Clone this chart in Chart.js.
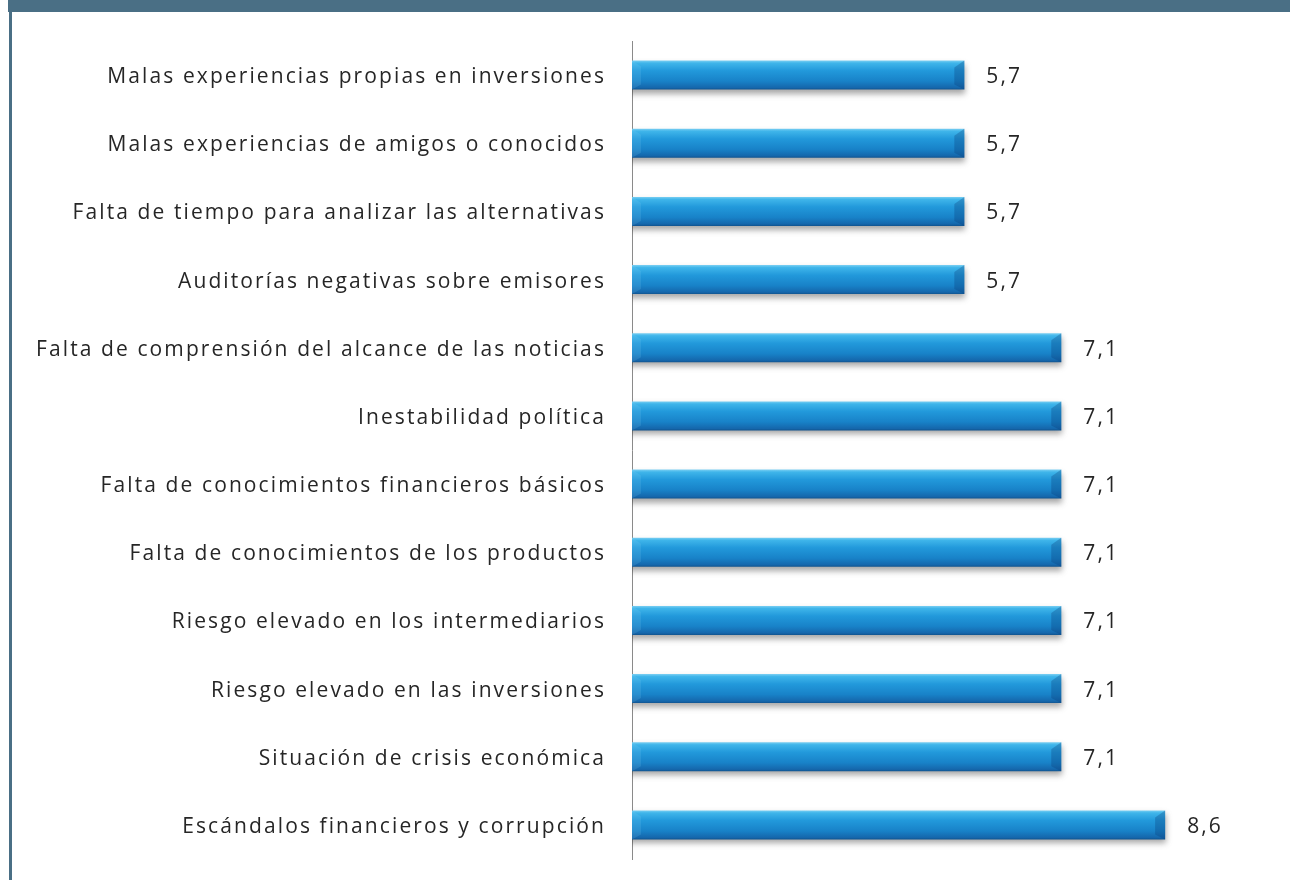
<!DOCTYPE html>
<html>
<head>
<meta charset="utf-8">
<script src="https://cdn.jsdelivr.net/npm/chart.js@4.4.1/dist/chart.umd.min.js"></script>
<style>
  html, body { margin: 0; padding: 0; background: #ffffff; }
  #wrap { position: relative; width: 1290px; height: 880px; overflow: hidden; }
  #topband { position: absolute; left: 8px; top: 0; width: 1282px; height: 12px; background: #4a6f85; }
  #leftrule { position: absolute; left: 9px; top: 12px; width: 3px; height: 868px; background: #4a6f85; }
  canvas { position: absolute; left: 0; top: 0; }
</style>
</head>
<body>
<div id="wrap">
  <div id="topband"></div>
  <div id="leftrule"></div>
  <canvas id="chart" width="1290" height="880"></canvas>
</div>
<script>
// Motivos de desconfianza (%), de arriba abajo
const categories = [
  'Malas experiencias propias en inversiones',
  'Malas experiencias de amigos o conocidos',
  'Falta de tiempo para analizar las alternativas',
  'Auditorías negativas sobre emisores',
  'Falta de comprensión del alcance de las noticias',
  'Inestabilidad política',
  'Falta de conocimientos financieros básicos',
  'Falta de conocimientos de los productos',
  'Riesgo elevado en los intermediarios',
  'Riesgo elevado en las inversiones',
  'Situación de crisis económica',
  'Escándalos financieros y corrupción'
];
const values = [5.7, 5.7, 5.7, 5.7, 7.1, 7.1, 7.1, 7.1, 7.1, 7.1, 7.1, 8.6];

const FONT = '"Open Sans", "Noto Sans", sans-serif';
const FONT_SIZE = 21;
const SPACING = '2.1px';

function fmt(v) { return v.toFixed(1).replace('.', ','); }

// Vertical gradient giving each bar a rounded, cylinder-like body
function barFill(context) {
  const chart = context.chart;
  const y = chart.scales.y;
  const fallback = '#1e8fd0';
  if (!y || typeof context.dataIndex !== 'number') return fallback;
  const cy = y.getPixelForValue(context.dataIndex);
  if (!isFinite(cy)) return fallback;
  const h = 15;
  const g = chart.ctx.createLinearGradient(0, cy - h, 0, cy + h);
  g.addColorStop(0.00, '#86d4f4');
  g.addColorStop(0.10, '#3fb5ea');
  g.addColorStop(0.35, '#2299db');
  g.addColorStop(0.70, '#1882c8');
  g.addColorStop(0.92, '#1567ac');
  g.addColorStop(1.00, '#0f4f88');
  return g;
}

// Letter spacing for all canvas text, plus a soft shadow below the bars
const shadowPlugin = {
  id: 'barShadow',
  beforeDraw(chart) {
    chart.ctx.letterSpacing = SPACING;
  },
  beforeDatasetsDraw(chart) {
    const ctx = chart.ctx;
    ctx.save();
    ctx.shadowColor = 'rgba(60,60,60,0.45)';
    ctx.shadowBlur = 6;
    ctx.shadowOffsetX = 1;
    ctx.shadowOffsetY = 4;
  },
  afterDatasetsDraw(chart) {
    chart.ctx.restore();
  }
};

// Bevelled caps at both ends of each bar and the value labels
const capsAndLabels = {
  id: 'capsAndLabels',
  afterDatasetsDraw(chart) {
    const ctx = chart.ctx;
    const area = chart.chartArea;
    const meta = chart.getDatasetMeta(0);
    meta.data.forEach((bar, i) => {
      const p = bar.getProps(['x', 'y', 'base', 'height'], true);
      const top = p.y - p.height / 2;
      const bot = p.y + p.height / 2;
      const xl = Math.max(p.base, area.left), xr = p.x;
      ctx.save();
      // left cap: faint slanted face
      ctx.fillStyle = 'rgba(140,215,248,0.15)';
      ctx.beginPath();
      ctx.moveTo(xl, top);
      ctx.lineTo(xl + 9, top + 6);
      ctx.lineTo(xl + 9, bot - 5);
      ctx.lineTo(xl, bot);
      ctx.closePath();
      ctx.fill();
      // right cap: darker slanted face
      ctx.fillStyle = 'rgba(10,60,120,0.30)';
      ctx.beginPath();
      ctx.moveTo(xr, top);
      ctx.lineTo(xr - 10, top + 7);
      ctx.lineTo(xr - 10, bot - 5);
      ctx.lineTo(xr, bot);
      ctx.closePath();
      ctx.fill();
      // value label
      ctx.fillStyle = '#262626';
      ctx.font = FONT_SIZE + 'px ' + FONT;
      ctx.letterSpacing = SPACING;
      ctx.textAlign = 'left';
      ctx.textBaseline = 'middle';
      ctx.fillText(fmt(values[i]), xr + 22, p.y + 2);
      ctx.restore();
    });
  }
};

new Chart(document.getElementById('chart'), {
  type: 'bar',
  data: {
    labels: categories,
    datasets: [{
      data: values,
      backgroundColor: barFill,
      borderWidth: 0,
      barPercentage: 0.85,
      categoryPercentage: 0.5
    }]
  },
  options: {
    indexAxis: 'y',
    responsive: false,
    animation: false,
    events: [],
    layout: { padding: { top: 41, bottom: 21, right: 21, left: 0 } },
    plugins: { legend: { display: false }, tooltip: { enabled: false } },
    scales: {
      x: {
        display: false,
        min: 0.9,
        max: 10.1
      },
      y: {
        afterFit(scale) {
          scale.width = 632;
          scale.paddingTop = 0;
          scale.paddingBottom = 0;
        },
        grid: { display: false, drawTicks: false },
        border: { display: true, color: '#8a8a8a', width: 1 },
        ticks: {
          padding: 26,
          labelOffset: 2,
          color: '#262626',
          font: { family: FONT, size: FONT_SIZE }
        }
      }
    }
  },
  plugins: [shadowPlugin, capsAndLabels]
});
</script>
</body>
</html>
